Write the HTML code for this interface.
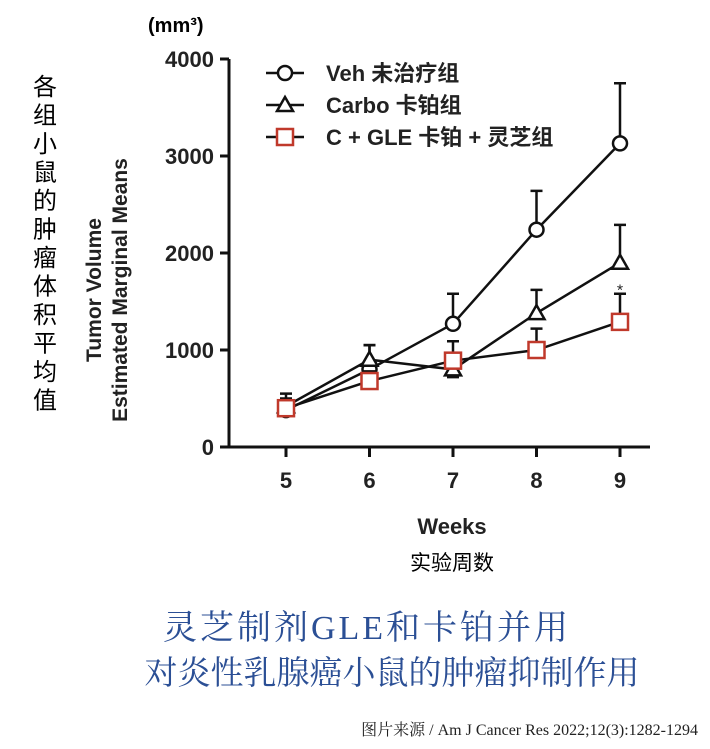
<!DOCTYPE html>
<html><head><meta charset="utf-8"><style>
body{margin:0;background:#fff;width:710px;height:749px;overflow:hidden}
svg{display:block}
.s{font-family:"Liberation Sans","Noto Sans CJK SC",sans-serif}
.f{font-family:"Liberation Serif","Noto Serif CJK SC",serif}
</style></head><body>
<svg width="710" height="749" viewBox="0 0 710 749">
<rect x="0" y="0" width="710" height="749" fill="#fff"/>
<g id="axes"></g>
<g id="series"></g>
<text x="148" y="32" class="s" font-size="20" font-weight="bold">(mm³)</text>
<g class="s" font-size="24" text-anchor="middle" id="cnv"></g>
<text transform="translate(101,290) rotate(-90)" class="s" font-size="21" font-weight="bold" fill="#222" text-anchor="middle">Tumor Volume</text>
<text transform="translate(127,290) rotate(-90)" class="s" font-size="21" font-weight="bold" fill="#222" text-anchor="middle">Estimated Marginal Means</text>
<text x="452" y="534" class="s" font-size="22" font-weight="bold" fill="#222" text-anchor="middle">Weeks</text>
<text x="452" y="570" class="s" font-size="21" text-anchor="middle">实验周数</text>
<text x="367" y="639" class="f" font-size="34" letter-spacing="3" fill="#2b4f95" text-anchor="middle">灵芝制剂GLE和卡铂并用</text>
<text x="392" y="684" class="f" font-size="33" fill="#2b4f95" text-anchor="middle">对炎性乳腺癌小鼠的肿瘤抑制作用</text>
<text x="698" y="735" class="f" font-size="16" fill="#222" text-anchor="end">图片来源 / Am J Cancer Res 2022;12(3):1282-1294</text>
<g id="legend"></g>
</svg>
<script>
const weeks=[5,6,7,8,9];
const yTicks=[0,1000,2000,3000,4000];
const vehValues=[380,800,1270,2240,3130];
const vehErr=[550,1050,1580,2640,3750];
const carboValues=[420,900,800,1380,1900];
const carboErr=[500,1050,720,1620,2290];
const gleValues=[400,680,890,1000,1290];
const gleErr=[450,780,1090,1220,1580];
const legendLabels=["Veh 未治疗组","Carbo 卡铂组","C + GLE 卡铂 + 灵芝组"];
const cnTitle="各组小鼠的肿瘤体积平均值";

const NS="http://www.w3.org/2000/svg";
function xs(w){return 286+(w-5)*83.5;}
function ys(v){return 447-v*0.097;}
function mk(tag,attrs,parent){const e=document.createElementNS(NS,tag);for(const k in attrs)e.setAttribute(k,attrs[k]);parent.appendChild(e);return e;}
const axes=document.getElementById('axes');
let e=mk('line',{x1:229,y1:ys(4000),x2:229,y2:448,stroke:'#111','stroke-width':3},axes);


e=mk('line',{x1:228,y1:447,x2:650,y2:447,stroke:'#111','stroke-width':3},axes);


yTicks.forEach(t=>{
 let l=mk('line',{x1:220,y1:ys(t),x2:229,y2:ys(t),stroke:'#111','stroke-width':3},axes);
 
 
 let tx=mk('text',{x:214,y:ys(t)+8,'text-anchor':'end','font-size':22,'font-weight':'bold',fill:'#222',class:'s'},axes);
 tx.textContent=t;
 
 
});
weeks.forEach(w=>{
 let l=mk('line',{x1:xs(w),y1:447,x2:xs(w),y2:457,stroke:'#111','stroke-width':3},axes);
 
 
 let tx=mk('text',{x:xs(w),y:488,'text-anchor':'middle','font-size':22,'font-weight':'bold',fill:'#222',class:'s'},axes);
 tx.textContent=w;
 
 
});
const cnv=document.getElementById('cnv');
[...cnTitle].forEach((c,i)=>{let t=mk('text',{x:45,y:95+i*28.5},cnv);t.textContent=c;});

function marker(type,x,y,g,color){
 if(type==='circle')return mk('circle',{cx:x,cy:y,r:7,fill:'#fff',stroke:color,'stroke-width':2.5},g);
 if(type==='tri')return mk('path',{d:`M${x},${y-8} L${x+8},${y+6} L${x-8},${y+6} Z`,fill:'#fff',stroke:color,'stroke-width':2.5},g);
 return mk('rect',{x:x-8,y:y-8,width:16,height:16,fill:'#fff',stroke:color,'stroke-width':2.5},g);
}
const sg=document.getElementById('series');
const seriesDefs=[[vehValues,vehErr,'circle','#111','veh'],[carboValues,carboErr,'tri','#111','carbo'],[gleValues,gleErr,'square','#c0392b','gle']];
seriesDefs.forEach(([vals,errs,type,col,name])=>{
 const g=mk('g',{},sg);
 
 
 vals.forEach((v,i)=>{
  let b=mk('path',{d:`M${xs(weeks[i])},${ys(v)} L${xs(weeks[i])},${ys(errs[i])} M${xs(weeks[i])-6},${ys(errs[i])} L${xs(weeks[i])+6},${ys(errs[i])}`,stroke:'#111','stroke-width':2.5,fill:'none'},g);
  
  
 });
 let p=mk('polyline',{points:vals.map((v,i)=>xs(weeks[i])+','+ys(v)).join(' '),fill:'none',stroke:'#111','stroke-width':2.5},g);
 
 
 vals.forEach((v,i)=>{
  let m=marker(type,xs(weeks[i]),ys(v),g,col);
  
  
 });
});
let st=mk('text',{x:xs(9),y:ys(1580)+2,'text-anchor':'middle','font-size':16,fill:'#222',class:'s'},sg);
st.textContent='*';



const lg=document.getElementById('legend');
const types=['circle','tri','square'],cols=['#111','#111','#c0392b'];
legendLabels.forEach((lab,i)=>{
 const y=73+i*32;
 const g=mk('g',{},lg);
 
 
 mk('line',{x1:266,y1:y,x2:304,y2:y,stroke:'#111','stroke-width':2.5},g);
 marker(types[i],285,y,g,cols[i]);
 const t=mk('text',{x:326,y:y+8,'font-size':22,fill:'#222',class:'s','font-weight':'bold'},g);
 t.textContent=lab;
});
</script>
</body></html>
